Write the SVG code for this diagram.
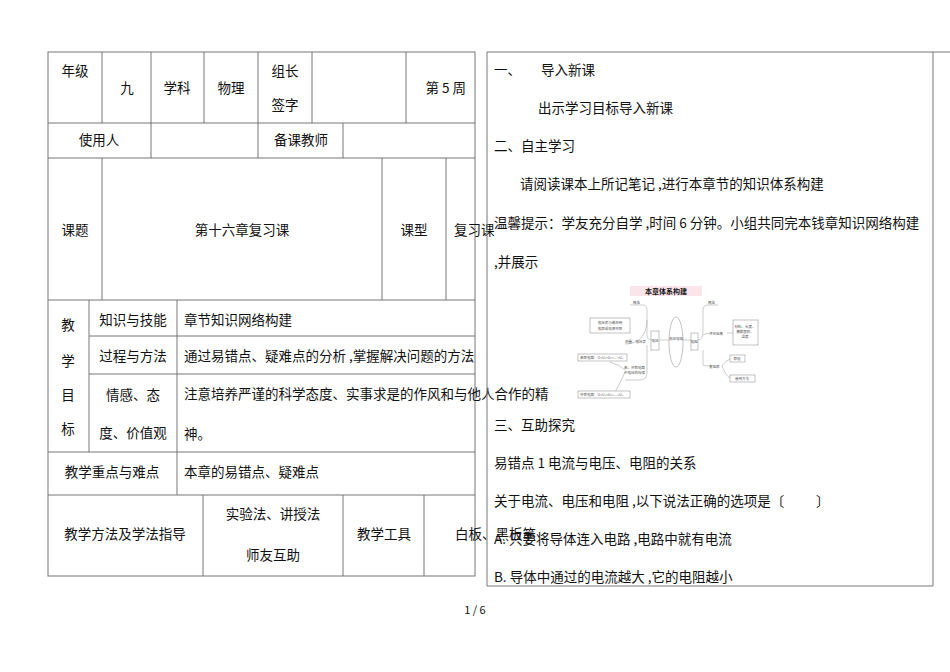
<svg xmlns="http://www.w3.org/2000/svg" width="950" height="672" viewBox="0 0 950 672">
<style>
text{font-family:"Noto Sans CJK SC","DejaVu Sans",sans-serif;font-size:13.5px;fill:#111}
.c{text-anchor:middle}
.g{stroke:#777;stroke-width:1;fill:none}
.m{stroke:#999;stroke-width:0.6;fill:#fff}
.t{font-size:3.5px;fill:#555}
</style>
<rect width="950" height="672" fill="#fff"/>
<g id="table" class="g">
<rect x="48" y="52" width="427" height="524"/>
<path d="M48 123H475M48 158H475M48 300H475M89 336H475M89 374H475M48 452H475M48 495H475"/>
<path d="M102 52V123M151 52V123M204 52V123M258 52V123M312 52V123M406 52V123"/>
<path d="M151 123V158M258 123V158M343 123V158"/>
<path d="M102 158V300M382 158V300M446 158V300"/>
<path d="M89 300V452M177 300V495"/>
<path d="M203 495V576M343 495V576M424 495V576"/>
</g>
<g id="table-text">
<text x="75" y="76" class="c">年级</text>
<text x="127" y="93" class="c">九</text>
<text x="177" y="93" class="c">学科</text>
<text x="231" y="93" class="c">物理</text>
<text x="285" y="76" class="c">组长</text>
<text x="285" y="110" class="c">签字</text>
<text x="466" y="93" text-anchor="end">第 5 周</text>
<text x="99" y="145" class="c">使用人</text>
<text x="301" y="145" class="c">备课教师</text>
<text x="75" y="235" class="c">课题</text>
<text x="242" y="235" class="c">第十六章复习课</text>
<text x="414" y="235" class="c">课型</text>
<text x="454" y="235">复习课</text>
<text x="68" y="330" class="c">教</text>
<text x="68" y="366" class="c">学</text>
<text x="68" y="400" class="c">目</text>
<text x="68" y="434" class="c">标</text>
<text x="133" y="325" class="c">知识与技能</text>
<text x="133" y="361" class="c">过程与方法</text>
<text x="133" y="400" class="c">情感、态</text>
<text x="133" y="438" class="c">度、价值观</text>
<text x="184" y="325">章节知识网络构建</text>
<text x="184" y="361">通过易错点、疑难点的分析 ,掌握解决问题的方法</text>
<text x="184" y="399">注意培养严谨的科学态度、实事求是的作风和与他人合作的精</text>
<text x="184" y="439">神。</text>
<text x="112" y="477" class="c">教学重点与难点</text>
<text x="184" y="477">本章的易错点、疑难点</text>
<text x="125" y="539" class="c">教学方法及学法指导</text>
<text x="273" y="519" class="c">实验法、讲授法</text>
<text x="273" y="560" class="c">师友互助</text>
<text x="384" y="539" class="c">教学工具</text>
<text x="455" y="539">白板、黑板笔</text>
</g>
<g id="right-panel">
<path class="g" d="M487 52H950M487 52V586H933M933 52V586"/>
<text x="494" y="75">一、</text>
<text x="541" y="75">导入新课</text>
<text x="538" y="113">出示学习目标导入新课</text>
<text x="494" y="151">二、自主学习</text>
<text x="520" y="189">请阅读课本上所记笔记 ,进行本章节的知识体系构建</text>
<text x="494" y="228">温馨提示：学友充分自学 ,时间 6 分钟。小组共同完本钱章知识网络构建</text>
<text x="494" y="267">,并展示</text>
<text x="494" y="430">三、互助探究</text>
<text x="494" y="468">易错点 1 电流与电压、电阻的关系</text>
<text x="494" y="506">关于电流、电压和电阻 ,以下说法正确的选项是〔</text>
<text x="816" y="506">〕</text>
<text x="494" y="544">A. 只要将导体连入电路 ,电路中就有电流</text>
<text x="494" y="582">B. 导体中通过的电流越大 ,它的电阻越小</text>
</g>
<g id="mindmap">
<rect x="630" y="286" width="72" height="10" fill="#fbe4ea"/>
<text x="666" y="294" class="c" style="font-size:7px;font-weight:bold">本章体系构建</text>
<ellipse cx="676" cy="342" rx="7" ry="25" class="m"/>
<text x="676" y="340" class="c t">电压电阻</text>
<rect x="651" y="331" width="8" height="19" class="m"/>
<text x="655" y="342" class="c t">电压</text>
<rect x="691" y="333" width="7" height="17" class="m"/>
<text x="694" y="343" class="c t">电阻</text>
<path class="g" style="stroke:#aaa;stroke-width:0.6" d="M659 340H669M682 340H691M651 340Q646 340 647 330V310Q647 305 643 305H630M647 345V372Q647 380 640 380H625M647 320Q646 344 625 344M698 340Q703 340 703 330V310Q703 305 708 305H718M703 335Q706 333 712 333M703 350V365Q703 366 712 366M727 333H733M722 366Q726 360 730 359M722 366Q726 376 730 378M610 362Q620 365 625 370M615 392Q622 380 625 372"/>
<text x="633" y="304" class="t">概念</text>
<rect x="590" y="318" width="40" height="15" class="m"/>
<text x="610" y="324" class="c t">电压表与被测用</text>
<text x="610" y="330" class="c t">电器或电源并联</text>
<text x="625" y="343" class="t">测量：电压表</text>
<rect x="578" y="354" width="49" height="7" class="m"/>
<text x="580" y="359" class="t">串联电路：U=U₁+U₂+…+Uₙ</text>
<text x="624" y="369" class="t">串、并联电路</text>
<text x="624" y="374" class="t">中电压的规律</text>
<rect x="578" y="391" width="52" height="7" class="m"/>
<text x="580" y="396" class="t">并联电路：U=U₁=U₂=…=Uₙ</text>
<text x="708" y="304" class="t">概念</text>
<text x="709" y="335" class="t">决定因素</text>
<rect x="733" y="320" width="25" height="25" class="m"/>
<text x="745" y="328" class="c t">材料、长度、</text>
<text x="745" y="333" class="c t">横截面积、</text>
<text x="745" y="338" class="c t">温度</text>
<text x="709" y="368" class="t">变阻器</text>
<rect x="730" y="355" width="15" height="7" class="m"/>
<text x="737" y="360" class="c t">原理</text>
<rect x="730" y="375" width="25" height="7" class="m"/>
<text x="742" y="380" class="c t">使用方法</text>
</g>
<text x="475" y="614" class="c" style="font-size:11px">1 / 6</text>
</svg>
